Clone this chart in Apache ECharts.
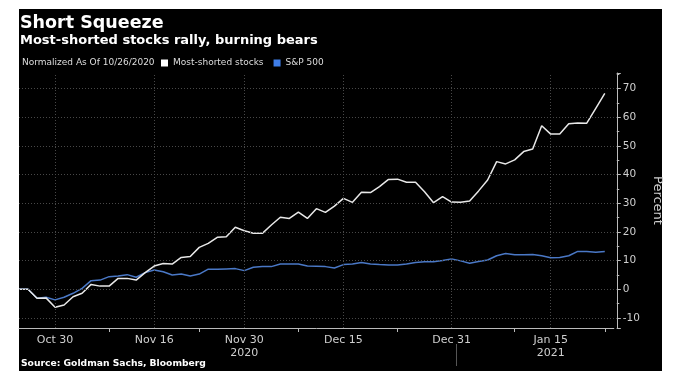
<!DOCTYPE html>
<html><head><meta charset="utf-8">
<script src="https://cdn.jsdelivr.net/npm/echarts@6/dist/echarts.min.js"></script>
<style>
html,body{margin:0;padding:0;background:#fff;width:680px;height:382px;overflow:hidden}
#bg{position:absolute;left:19px;top:9px;width:643px;height:362px;background:#000}
#chart{position:absolute;left:0;top:0;width:680px;height:382px}
</style></head><body>
<div id="bg"></div><div id="chart"></div>
<script>
// Weekday categories (Bloomberg weekday axis)
const dates = [
'2020-10-26','2020-10-27','2020-10-28','2020-10-29','2020-10-30',
'2020-11-02','2020-11-03','2020-11-04','2020-11-05','2020-11-06',
'2020-11-09','2020-11-10','2020-11-11','2020-11-12','2020-11-13',
'2020-11-16','2020-11-17','2020-11-18','2020-11-19','2020-11-20',
'2020-11-23','2020-11-24','2020-11-25','2020-11-26','2020-11-27',
'2020-11-30','2020-12-01','2020-12-02','2020-12-03','2020-12-04',
'2020-12-07','2020-12-08','2020-12-09','2020-12-10','2020-12-11',
'2020-12-14','2020-12-15','2020-12-16','2020-12-17','2020-12-18',
'2020-12-21','2020-12-22','2020-12-23','2020-12-24','2020-12-25',
'2020-12-28','2020-12-29','2020-12-30','2020-12-31','2021-01-01',
'2021-01-04','2021-01-05','2021-01-06','2021-01-07','2021-01-08',
'2021-01-11','2021-01-12','2021-01-13','2021-01-14','2021-01-15',
'2021-01-18','2021-01-19','2021-01-20','2021-01-21','2021-01-22',
'2021-01-25','2021-01-26'];

const mostShorted = [
0, 0, -3.1, -3.0, -6.3, -5.5, -2.6, -1.4, 1.7, 1.1,
1.1, 3.8, 3.8, 3.2, 5.8, 8.1, 9.0, 8.8, 11.1, 11.4,
14.6, 16.0, 18.1, 18.3, 21.6, 20.4, 19.5, 19.5, 22.4, 25.1,
24.7, 26.9, 24.7, 28.1, 26.8, 29.0, 31.7, 30.3, 33.8, 33.7,
35.8, 38.3, 38.4, 37.3, 37.3, 34.0, 30.2, 32.3, 30.4, 30.3,
30.8, 34.3, 38.1, 44.5, 43.7, 45.1, 48.0, 48.9, 57.0, 54.1,
54.1, 57.7, 58.0, 57.9, 63.1, 68.3, null];

const sp500 = [
0, 0, -3.1, -2.8, -3.7, -2.8, -1.4, 0.3, 3.0, 3.2,
4.4, 4.6, 5.1, 4.2, 5.8, 6.7, 6.1, 5.0, 5.3, 4.6,
5.3, 7.0, 7.0, 7.1, 7.2, 6.5, 7.7, 7.9, 7.9, 8.8,
8.8, 8.8, 8.1, 8.0, 7.9, 7.4, 8.6, 8.8, 9.3, 8.8,
8.6, 8.5, 8.5, 8.8, 9.3, 9.6, 9.6, 10.0, 10.6, 9.9,
9.1, 9.7, 10.2, 11.7, 12.5, 12.0, 12.0, 12.1, 11.7, 11.0,
11.1, 11.7, 13.2, 13.2, 12.9, 13.2, null];

const xLabelDates = ['2020-10-30','2020-11-16','2020-11-30','2020-12-15','2020-12-31','2021-01-15'];
const xLabelText  = ['Oct 30','Nov 16','Nov 30\n2020','Dec 15','Dec 31','Jan 15\n2021'];
const xTickDates  = ['2020-11-09','2020-11-23','2020-12-08','2020-12-23','2021-01-11','2021-01-25'];
const yTicks = [-10, 0, 10, 20, 30, 40, 50, 60, 70];
const yMin = -13.5, yMax = 75.4;

const chart = echarts.init(document.getElementById('chart'), null, {renderer:'canvas'});
const F = 'DejaVu Sans';
const gridLine = {type:[1,2], color:'#484848', width:1};

chart.setOption({
  animation:false,
  backgroundColor:'transparent',
  title:[
    {text:'Short Squeeze', left:20, top:14, padding:0,
     textStyle:{fontFamily:F, fontWeight:'bold', fontSize:17.5, color:'#ffffff'}},
    {text:'Most-shorted stocks rally, burning bears', left:20, top:34.5, padding:0,
     textStyle:{fontFamily:F, fontWeight:'bold', fontSize:13, color:'#ffffff'}},
    {text:'Normalized As Of 10/26/2020', left:22, top:58, padding:0,
     textStyle:{fontFamily:F, fontWeight:'normal', fontSize:9, color:'#dddddd'}},
    {text:'Source: Goldman Sachs, Bloomberg', left:21, top:359, padding:0,
     textStyle:{fontFamily:F, fontWeight:'bold', fontSize:9.2, color:'#ffffff'}}
  ],
  legend:{
    left:161, top:58.5, padding:0, itemGap:10, itemWidth:7, itemHeight:7, icon:'rect',
    textStyle:{fontFamily:F, fontSize:9, color:'#dddddd'},
    data:[{name:'Most-shorted stocks', itemStyle:{color:'#ffffff'}},
          {name:'S&P 500', itemStyle:{color:'#3f7ee8'}}]
  },
  grid:{left:19, right:66.2, top:73, bottom:54, containLabel:false},
  xAxis:{
    type:'category', data:dates, boundaryGap:false,
    axisLine:{onZero:false, lineStyle:{color:'#bbbbbb', width:1}},
    axisTick:{show:true, length:4, lineStyle:{color:'#bbbbbb'},
      interval:(i, v)=> xTickDates.indexOf(v) >= 0},
    axisLabel:{
      interval:(i, v)=> xLabelDates.indexOf(v) >= 0,
      formatter:(v)=> { const k = xLabelDates.indexOf(v); return k >= 0 ? xLabelText[k] : ''; },
      fontFamily:F, fontSize:11, color:'#cfcfcf', lineHeight:13, margin:6
    },
    splitLine:{show:false}
  },
  yAxis:[
    {type:'value', position:'right', offset:3, min:yMin, max:yMax, splitNumber:9,
     axisLine:{show:true, onZero:false, lineStyle:{color:'#bbbbbb'}},
     axisTick:{show:true, length:4, lineStyle:{color:'#bbbbbb'}},
     axisLabel:{fontFamily:F, fontSize:10.5, color:'#cfcfcf', margin:6,
       formatter:(v)=> yTicks.indexOf(Math.round(v*100)/100) >= 0 ? String(Math.round(v)) : ''},
     splitLine:{show:false},
     name:'Percent', nameLocation:'middle', nameRotate:-90, nameGap:27,
     nameTextStyle:{fontFamily:F, fontSize:13, color:'#cfcfcf'}},
    {type:'value', position:'right', offset:3, min:yMin, max:yMax, splitNumber:18,
     axisLine:{show:false, onZero:false}, axisLabel:{show:false}, splitLine:{show:false},
     axisTick:{show:true, length:2.5, lineStyle:{color:'#bbbbbb'}}}
  ],
  series:[
    {name:'grid', type:'line', data:[], silent:true, z:1,
     markLine:{silent:true, symbol:['none','none'], label:{show:false}, animation:false,
       lineStyle:gridLine, emphasis:{disabled:true},
       data: yTicks.map(v=>({yAxis:v})).concat(xLabelDates.map(d=>({xAxis:d})))}},
    {name:'S&P 500', type:'line', data:sp500, showSymbol:false, z:3,
     lineStyle:{color:'#4a78c6', width:1.5}, itemStyle:{color:'#4a78c6'}},
    {name:'Most-shorted stocks', type:'line', data:mostShorted, showSymbol:false, z:4,
     lineStyle:{color:'#e8e8e8', width:1.5}, itemStyle:{color:'#e8e8e8'}}
  ]
});

const xa = chart.convertToPixel({xAxisIndex:0}, '2020-12-31');
const xb = chart.convertToPixel({xAxisIndex:0}, '2021-01-01');
const mid = Math.round((xa + xb) / 2) + 0.5;
chart.setOption({graphic:[{type:'line', silent:true,
  shape:{x1:mid, y1:344, x2:mid, y2:366}, style:{stroke:'#555555', lineWidth:1}}]});
</script>
</body></html>
